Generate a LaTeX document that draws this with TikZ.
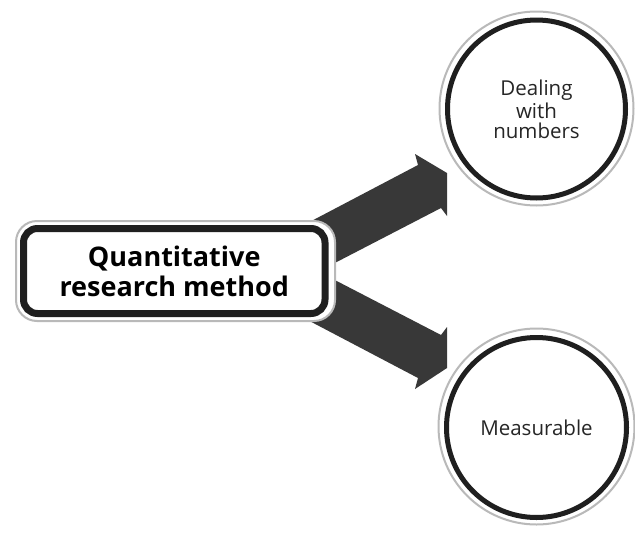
\documentclass[tikz,border=0pt]{standalone}
\usepackage{fontspec}
\setmainfont{Open Sans}
\begin{document}
\begin{tikzpicture}[x=1pt,y=-1pt,
  arrowfill/.style={fill=black!78},
  greyring/.style={draw=gray!55, line width=2pt, fill=white},
  boxstyle/.style={draw=black!88, line width=7pt, rounded corners=14pt, fill=white,
    minimum width=301.5pt, minimum height=85pt, inner sep=0pt, align=center,
    font=\fontsize{27}{30}\selectfont\bfseries},
  ringstyle/.style={circle, draw=black!88, line width=5pt, fill=white,
    minimum size=178pt, inner sep=0pt, align=center, text=black!85,
    font=\fontsize{20.5}{20}\selectfont}
]
\useasboundingbox (0,0) rectangle (635,536);
\fill[white] (0,0) rectangle (635,536);

% block arrows
\fill[arrowfill] (300,227) -- (418,165) -- (415,154) -- (447,173) -- (447,216)
  -- (441,208) -- (300,281) -- cycle;
\fill[arrowfill] (300,316) -- (418,378) -- (415,389) -- (447,368) -- (447,327)
  -- (441,335) -- (300,262) -- cycle;

% central box
\node[greyring, rounded corners=21pt, minimum width=319pt, minimum height=100pt] (qo) at (175.5,271) {};
\node[boxstyle] (q) at (174.25,271) {Quantitative\\research method};

% circles
\node[greyring, circle, minimum size=194pt, inner sep=0pt] (do) at (536.5,108.5) {};
\node[ringstyle] (d) at (536.5,109) {\raisebox{3pt}{Dealing}\\with\\numbers};

\node[greyring, circle, minimum size=196pt, inner sep=0pt] (mo) at (536.5,426.5) {};
\node[ringstyle, minimum size=180pt] (m) at (536.5,427.5) {\raisebox{-5pt}{Measurable}};
\end{tikzpicture}
\end{document}
